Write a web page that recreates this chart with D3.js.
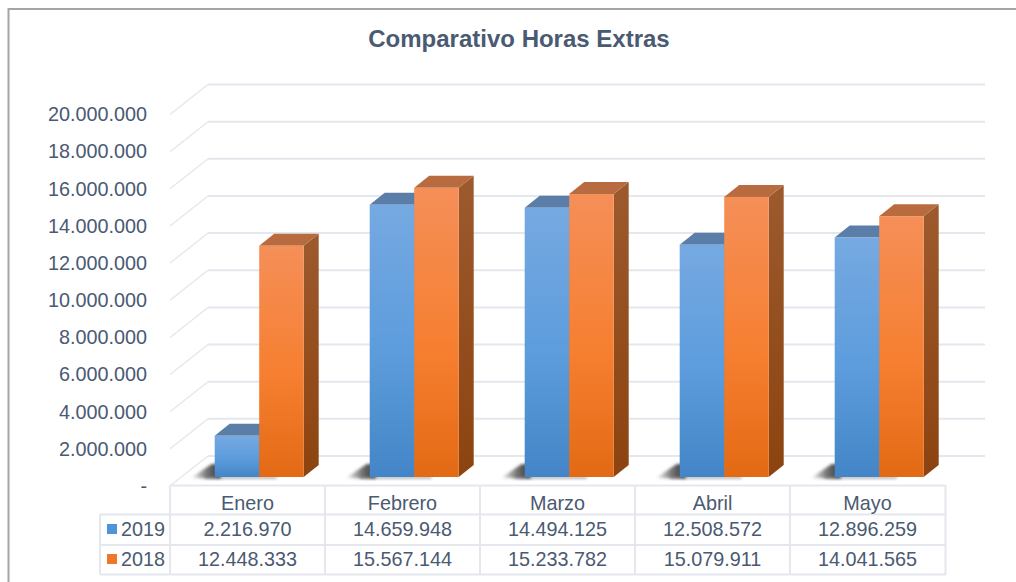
<!DOCTYPE html>
<html>
<head>
<meta charset="utf-8">
<script src="https://cdn.jsdelivr.net/npm/d3@7"></script>
<style>
body { margin: 0; background: #fff; }
svg { display: block; }
text { font-family: "Liberation Sans", Arial, sans-serif; fill: #4a5a72; }
.y-axis text { font-size: 19.8px; }
</style>
</head>
<body>
<div id="chart"></div>
<script>
// data
let categories = ['Enero', 'Febrero', 'Marzo', 'Abril', 'Mayo'];
let seriesNames = ['2019', '2018'];
let values2019 = [2216970, 14659948, 14494125, 12508572, 12896259];
let values2018 = [12448333, 15567144, 15233782, 15079911, 14041565];
let tickValues = [0, 2000000, 4000000, 6000000, 8000000, 10000000, 12000000, 14000000, 16000000, 18000000, 20000000];

let seriesValues = [values2019, values2018];

let svgWidth = 1016;
let svgHeight = 582;

// baselines of the fake 3D box
let frontBase = 486;
let barBase = 477;
let backBase = 456;
let leftFront = 170;
let leftBack = 208;
let rightBack = 985;
let depthX = 15;
let depthY = 12;

let colors = {
    '2019': { top: '#76a9e1', mid: '#5c9cdd', bottom: '#4385c6', cap: '#5a7ea8', side: '#4a6f9c', key: '#4f94d6' },
    '2018': { top: '#f58f58', mid: '#f67f31', bottom: '#e36a14', cap: '#b96b40', side: '#9a5526', key: '#f0762a' }
};

let svg = d3.select('#chart').append('svg')
    .attr('width', svgWidth)
    .attr('height', svgHeight);

let defs = svg.append('defs');

seriesNames.forEach(name => {
    let grad = defs.append('linearGradient')
        .attr('id', 'grad' + name)
        .attr('x1', 0).attr('y1', 0).attr('x2', 0).attr('y2', 1);
    grad.append('stop').attr('offset', '0%').attr('stop-color', colors[name].top);
    grad.append('stop').attr('offset', '55%').attr('stop-color', colors[name].mid);
    grad.append('stop').attr('offset', '100%').attr('stop-color', colors[name].bottom);
});

let sideGrad = defs.append('linearGradient')
    .attr('id', 'gradSide')
    .attr('x1', 0).attr('y1', 0).attr('x2', 0).attr('y2', 1);
sideGrad.append('stop').attr('offset', '0%').attr('stop-color', '#9c5a2e');
sideGrad.append('stop').attr('offset', '100%').attr('stop-color', '#8c430f');

// fades the floor shadow out towards the left
let shadowGrad = defs.append('linearGradient')
    .attr('id', 'gradShadow')
    .attr('x1', 0).attr('y1', 0).attr('x2', 1).attr('y2', 0);
shadowGrad.append('stop').attr('offset', '0%').attr('stop-color', '#444').attr('stop-opacity', 0);
shadowGrad.append('stop').attr('offset', '55%').attr('stop-color', '#444').attr('stop-opacity', 0.75);
shadowGrad.append('stop').attr('offset', '100%').attr('stop-color', '#333').attr('stop-opacity', 1);

defs.append('filter')
    .attr('id', 'blur')
    .attr('x', '-30%').attr('y', '-40%').attr('width', '160%').attr('height', '180%')
    .append('feGaussianBlur')
    .attr('stdDeviation', 1.4);

// frame
svg.append('path')
    .attr('d', `M8.5,${svgHeight} V9 H${svgWidth}`)
    .attr('fill', 'none')
    .attr('stroke', '#a5a5a5')
    .attr('stroke-width', 2);

// scales
let xBand = d3.scaleBand()
    .domain(categories)
    .range([leftFront, 945]);

let xSeries = d3.scaleBand()
    .domain(seriesNames)
    .range([44.7, 133.7]);

// y is relative to whichever baseline it gets used from
let y = d3.scaleLinear()
    .domain([0, 20000000])
    .range([0, -371.5]);

let locale = d3.formatLocale({ decimal: ',', thousands: '.', grouping: [3], currency: ['', ''] });
let fmt = locale.format(',d');

// gridlines along the back wall and the side wall
let grid = svg.append('g');

grid.selectAll('.back')
    .data(tickValues)
    .enter()
    .append('line')
    .attr('x1', leftBack)
    .attr('x2', rightBack)
    .attr('y1', d => backBase + y(d))
    .attr('y2', d => backBase + y(d))
    .attr('stroke', '#e4e7ed')
    .attr('stroke-width', 2);

grid.selectAll('.wall')
    .data(tickValues)
    .enter()
    .append('line')
    .attr('x1', leftFront)
    .attr('x2', leftBack)
    .attr('y1', d => frontBase + y(d))
    .attr('y2', d => backBase + y(d))
    .attr('stroke', '#e4e7ed')
    .attr('stroke-width', 1.3);

// y axis
let yAxis = svg.append('g')
    .attr('class', 'y-axis')
    .attr('transform', `translate(${leftFront}, ${frontBase})`)
    .call(d3.axisLeft(y)
        .tickValues(tickValues)
        .tickSize(0)
        .tickPadding(23)
        .tickFormat(d => d === 0 ? '-' : fmt(d)));
yAxis.select('.domain').remove();
yAxis.selectAll('text').attr('font-family', null).style('fill', '#4a5a72');

// bars
categories.forEach((cat, i) => {
    let g = svg.append('g')
        .attr('transform', `translate(${xBand(cat)}, ${barBase})`);

    // floor shadow to the left of the pair
    let sx = xSeries('2019');
    g.append('path')
        .attr('d', `M${sx - 24},1 L${sx - 3},-13 H${sx + 6} V1.5 Z`)
        .attr('fill', 'url(#gradShadow)')
        .attr('filter', 'url(#blur)');
    g.append('path')
        .attr('d', `M${sx - 10},-1 H${sx + 62} V2 H${sx - 10} Z`)
        .attr('fill', '#666')
        .attr('opacity', 0.45)
        .attr('filter', 'url(#blur)');

    seriesNames.forEach((name, s) => {
        let v = seriesValues[s][i];
        let x0 = xSeries(name);
        let w = xSeries.bandwidth();
        let top = y(v);

        // right side
        g.append('path')
            .attr('d', `M${x0 + w},${top} l${depthX},${-depthY} V${-depthY} L${x0 + w},0 Z`)
            .attr('fill', name === '2018' ? 'url(#gradSide)' : colors[name].side);

        // top cap
        g.append('path')
            .attr('d', `M${x0},${top} l${depthX},${-depthY} h${w} l${-depthX},${depthY} Z`)
            .attr('fill', colors[name].cap);

        // front
        g.append('rect')
            .attr('x', x0)
            .attr('y', top)
            .attr('width', w)
            .attr('height', -top)
            .attr('fill', `url(#grad${name})`);
    });
});

// data table
let rowLines = [485.5, 514.5, 545, 574.5];
let table = svg.append('g')
    .attr('stroke', '#e4e7ed')
    .attr('stroke-width', 2);

rowLines.forEach((ly, i) => {
    table.append('line')
        .attr('x1', i === 0 ? leftFront : 100)
        .attr('x2', 946)
        .attr('y1', ly)
        .attr('y2', ly);
});
table.append('line').attr('x1', 100).attr('x2', 100).attr('y1', rowLines[1]).attr('y2', rowLines[3]);
xBand.domain().concat('end').forEach(cat => {
    let lx = cat === 'end' ? 945.5 : xBand(cat);
    table.append('line').attr('x1', lx).attr('x2', lx).attr('y1', rowLines[0]).attr('y2', rowLines[3]);
});

let cellText = (x, yPos, txt, anchor) => svg.append('text')
    .attr('x', x)
    .attr('y', yPos)
    .attr('text-anchor', anchor || 'middle')
    .attr('dominant-baseline', 'central')
    .attr('font-size', '19.8px')
    .text(txt);

categories.forEach((cat, i) => {
    let cx = xBand(cat) + xBand.bandwidth() / 2;
    cellText(cx, 502.5, cat);
    cellText(cx, 529, fmt(values2019[i]));
    cellText(cx, 559, fmt(values2018[i]));
});

// legend keys in the table
seriesNames.forEach((name, s) => {
    let rowY = s === 0 ? 529 : 559;
    svg.append('rect')
        .attr('x', 107)
        .attr('y', rowY - 5)
        .attr('width', 10)
        .attr('height', 10)
        .attr('fill', colors[name].key);
    cellText(121, rowY, name, 'start');
});

// title
svg.append('text')
    .attr('x', 519)
    .attr('y', 38.5)
    .attr('text-anchor', 'middle')
    .attr('dominant-baseline', 'central')
    .attr('font-size', '24px')
    .attr('font-weight', 'bold')
    .text('Comparativo Horas Extras');
</script>
</body>
</html>
